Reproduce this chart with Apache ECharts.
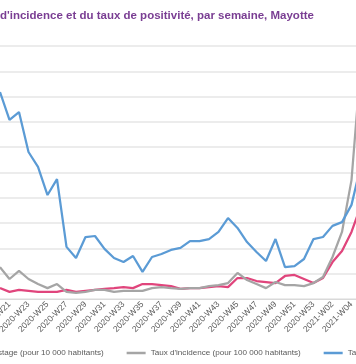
<!DOCTYPE html>
<html>
<head>
<meta charset="utf-8">
<script src="https://cdn.jsdelivr.net/npm/echarts@6/dist/echarts.min.js"></script>
<style>html,body{margin:0;padding:0;background:#fff}#c{width:356px;height:364px}</style>
</head>
<body>
<div id="c"></div>
<script>
const weeks = [
  '2020-W20','2020-W21','2020-W22','2020-W23','2020-W24','2020-W25','2020-W26','2020-W27','2020-W28','2020-W29',
  '2020-W30','2020-W31','2020-W32','2020-W33','2020-W34','2020-W35','2020-W36','2020-W37','2020-W38','2020-W39',
  '2020-W40','2020-W41','2020-W42','2020-W43','2020-W44','2020-W45','2020-W46','2020-W47','2020-W48','2020-W49',
  '2020-W50','2020-W51','2020-W52','2020-W53','2021-W01','2021-W02','2021-W03','2021-W04','2021-W05'
];
const depistage = [4.3,2.8,3.6,3.2,2.8,2.8,2.8,3.6,2.8,3.2, 3.6,4.0,4.3,4.7,4.3,5.9,5.9,5.5,5.1,4.0, 4.3,4.3,4.7,5.1,4.7,8.3,8.3,7.1,6.7,6.3, 9.1,9.5,7.9,6.3,8.3,14.6,19.0,26.5,37];
const incidence = [12.6,7.9,11.1,7.9,5.9,4.3,5.9,2.8,2.4,2.8, 3.6,3.6,2.8,3.2,3.2,3.2,4.3,4.7,4.3,4.0, 4.3,4.3,5.1,5.5,6.3,10.3,7.5,5.9,4.3,6.7, 5.5,5.5,5.1,6.3,8.7,16.6,26.5,47,94];
const positivite = [81.8,70.8,73.9,58.1,52.2,41.1,47.4,20.6,16.2,24.5, 24.9,19.8,16.2,14.6,17.0,10.7,16.6,17.8,19.4,20.2, 22.9,22.9,23.7,26.5,32.0,28.1,22.5,18.6,15.0,23.7, 12.6,13.0,15.8,23.7,24.5,28.9,30.4,37.2,53];
const names = ['Taux de dépistage (pour 10 000 habitants)', "Taux d'incidence (pour 100 000 habitants)", 'Taux de positivité (%)'];

const chart = echarts.init(document.getElementById('c'), null, {renderer: 'canvas'});
const mk = (name, data, color) => ({
  name, type: 'line', data, symbol: 'none', smooth: false,
  lineStyle: {color, width: 2.25}, itemStyle: {color}
});
chart.setOption({
  animation: false,
  backgroundColor: '#ffffff',
  title: {
    text: "d'incidence et du taux de positivité, par semaine, Mayotte",
    left: 0, top: 10, padding: 0,
    textStyle: {color: '#7a3e93', fontSize: 11.5, fontWeight: 'bold', fontFamily: 'Liberation Sans, Arial, sans-serif'}
  },
  legend: {
    data: names, left: -72, top: 349, width: 700, padding: 0,
    icon: 'rect', itemWidth: 19, itemHeight: 2.5, itemGap: 23,
    textStyle: {color: '#595959', fontSize: 8.1, fontFamily: 'Liberation Sans, Arial, sans-serif'}
  },
  grid: {left: 0, width: 361, top: 46, bottom: 65, containLabel: false, outerBoundsMode: 'none'},
  xAxis: {
    type: 'category', data: weeks, boundaryGap: false,
    axisLine: {lineStyle: {color: '#d9d9d9', width: 1}},
    axisTick: {show: false},
    axisLabel: {
      rotate: 45, margin: 4, color: '#595959', fontSize: 8.5,
      fontFamily: 'Liberation Sans, Arial, sans-serif',
      interval: (i) => i % 2 === 1
    },
    splitLine: {show: false}
  },
  yAxis: {
    type: 'value', min: 0, max: 100, interval: 10,
    axisLabel: {show: false}, axisLine: {show: false}, axisTick: {show: false},
    splitLine: {lineStyle: {color: '#e6e6e6', width: 1.5}}
  },
  series: [
    mk(names[0], depistage, '#e0457c'),
    mk(names[1], incidence, '#a5a5a5'),
    mk(names[2], positivite, '#5b9bd5')
  ]
});
</script>
</body>
</html>
